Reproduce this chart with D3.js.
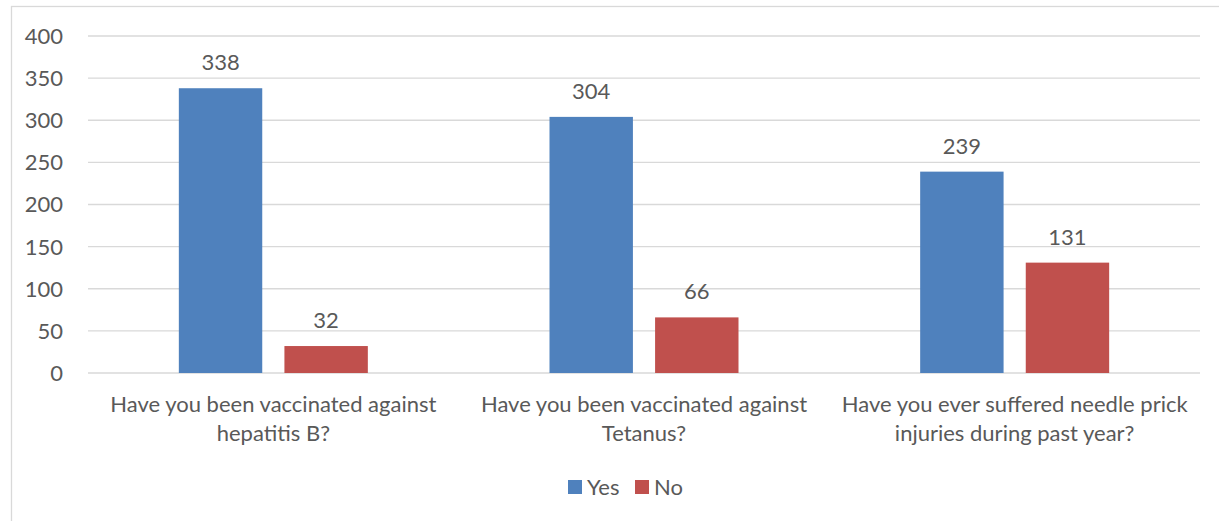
<!DOCTYPE html>
<html>
<head>
<meta charset="utf-8">
<script src="https://cdn.jsdelivr.net/npm/d3@7"></script>
<style>
  body { margin: 0; background: #fff; }
  svg text { font-family: Lato, "Open Sans", sans-serif; fill: #595959; }
</style>
</head>
<body>
<svg id="chart" width="1219" height="521"></svg>
<script>
// Data
const categories = [
  ['Have you been vaccinated against', 'hepatitis B?'],
  ['Have you been vaccinated against', 'Tetanus?'],
  ['Have you ever suffered needle prick', 'injuries during past year?']
];
const seriesNames = ['Yes', 'No'];
const yesValues = [338, 304, 239];
const noValues = [32, 66, 131];
const yTicks = [0, 50, 100, 150, 200, 250, 300, 350, 400];
const colors = ['#4f81bd', '#c0504d'];

const svg = d3.select('#chart');
const plot = { left: 88, right: 1200, top: 36, bottom: 373 };
const fs = '22px';

// outer frame (only left and top visible in the picture)
svg.append('rect')
  .attr('x', 11.5).attr('y', 6.5)
  .attr('width', 1230).attr('height', 540)
  .attr('fill', 'none').attr('stroke', '#d9d9d9').attr('stroke-width', 1.3);

const y = d3.scaleLinear().domain([0, 400]).range([plot.bottom, plot.top]);
const x0 = d3.scaleBand().domain(d3.range(categories.length)).range([plot.left, plot.right]);
const outer = (x0.bandwidth() - 189) / 2;
const x1 = d3.scaleBand().domain(seriesNames)
  .range([outer, x0.bandwidth() - outer]).paddingInner(0.21);

// gridlines
svg.append('g').selectAll('line').data(yTicks).join('line')
  .attr('x1', plot.left).attr('x2', plot.right)
  .attr('y1', d => y(d)).attr('y2', d => y(d))
  .attr('stroke', '#d9d9d9').attr('stroke-width', 1.3);

// y axis labels
svg.append('g').selectAll('text').data(yTicks).join('text')
  .attr('x', 63).attr('y', d => y(d))
  .attr('dy', '0.36em')
  .attr('text-anchor', 'end')
  .style('font-size', fs)
  .text(d => d);

const rows = categories.map((c, i) => ({ i, values: [yesValues[i], noValues[i]] }));

const groups = svg.append('g').selectAll('g').data(rows).join('g')
  .attr('transform', d => `translate(${x0(d.i)},0)`);

groups.selectAll('rect')
  .data(d => d.values.map((v, k) => ({ key: seriesNames[k], v, k })))
  .join('rect')
  .attr('x', d => x1(d.key))
  .attr('width', x1.bandwidth())
  .attr('y', d => y(d.v))
  .attr('height', d => y(0) - y(d.v))
  .attr('fill', d => colors[d.k]);

groups.selectAll('text.val')
  .data(d => d.values.map((v, k) => ({ key: seriesNames[k], v, k })))
  .join('text')
  .attr('class', 'val')
  .attr('x', d => x1(d.key) + x1.bandwidth() / 2)
  .attr('y', d => y(d.v) - 18)
  .attr('text-anchor', 'middle')
  .style('font-size', fs)
  .text(d => d.v);

// category labels
const catLabels = svg.append('g').selectAll('text').data(categories).join('text')
  .attr('text-anchor', 'middle')
  .style('font-size', fs)
  .attr('transform', (d, i) => `translate(${x0(i) + x0.bandwidth() / 2},412)`);
catLabels.selectAll('tspan').data(d => d).join('tspan')
  .attr('x', 0)
  .attr('y', (d, i) => i * 28.5)
  .text(d => d);

// legend
const legend = svg.append('g').attr('transform', 'translate(568,480)');
const legendX = [0, 67];
seriesNames.forEach((name, k) => {
  const g = legend.append('g').attr('transform', `translate(${legendX[k]},0)`);
  g.append('rect').attr('width', 14).attr('height', 14).attr('fill', colors[k]);
  g.append('text').attr('x', 19).attr('y', 7).attr('dy', '0.36em')
    .style('font-size', fs).text(name);
});
</script>
</body>
</html>
